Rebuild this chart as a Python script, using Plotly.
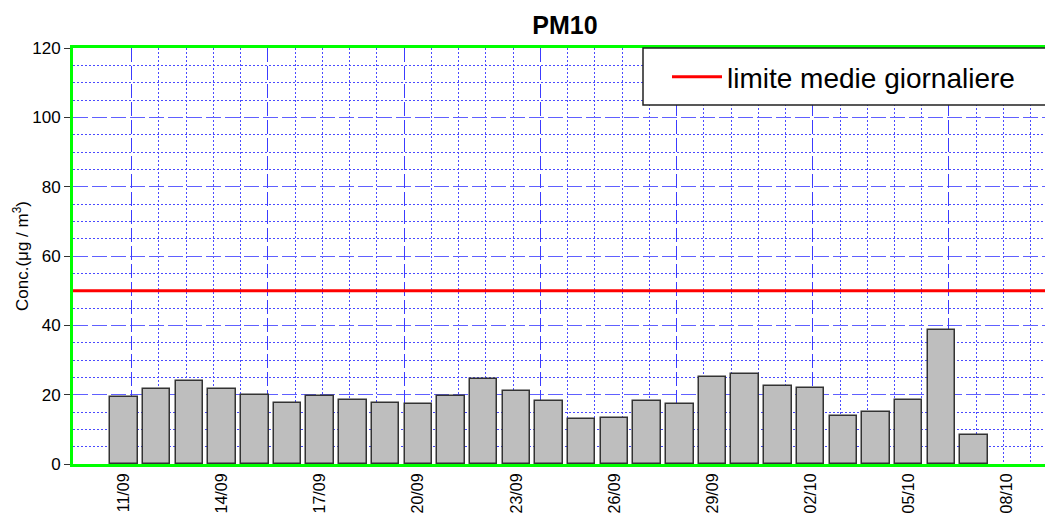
import plotly.graph_objects as go
import pandas as pd

# ---- data ----
days = ["2023-09-11", "2023-09-12", "2023-09-13", "2023-09-14", "2023-09-15",
        "2023-09-16", "2023-09-17", "2023-09-18", "2023-09-19", "2023-09-20",
        "2023-09-21", "2023-09-22", "2023-09-23", "2023-09-24", "2023-09-25",
        "2023-09-26", "2023-09-27", "2023-09-28", "2023-09-29", "2023-09-30",
        "2023-10-01", "2023-10-02", "2023-10-03", "2023-10-04", "2023-10-05",
        "2023-10-06", "2023-10-07"]
pm10 = [19.3, 21.6, 23.9, 21.6, 20.0, 17.7, 19.6, 18.5, 17.5, 17.3,
        19.6, 24.4, 21.0, 18.3, 12.9, 13.4, 18.3, 17.3, 25.0, 26.0,
        22.5, 21.9, 13.8, 14.9, 18.4, 38.7, 8.3]
tick_dates = ["2023-09-11", "2023-09-14", "2023-09-17", "2023-09-20", "2023-09-23",
              "2023-09-26", "2023-09-29", "2023-10-02", "2023-10-05", "2023-10-08"]
tick_labels = ["11/09", "14/09", "17/09", "20/09", "23/09",
               "26/09", "29/09", "02/10", "05/10", "08/10"]
limit_value = 50
limit_name = "limite medie giornaliere"

# ---- layout helpers ----
DAY = pd.Timedelta(days=1)
t_first = pd.Timestamp(days[0])
x_lo = t_first - 1.56 * DAY
x_hi = t_first + 28.17 * DAY
grid0 = t_first + pd.Timedelta(hours=5.6)
major_grid = []
minor_grid = []
k = 0
while True:
    t = grid0 + pd.Timedelta(hours=20 * k)
    if t > x_hi:
        break
    (major_grid if k % 5 == 0 else minor_grid).append(t.strftime("%Y-%m-%d %H:%M:%S"))
    k += 1

FONT = "Liberation Sans, Arial, sans-serif"
GRID_MAJOR = "#3c3cff"
GRID_MINOR = "#4a4aff"

fig = go.Figure()
fig.add_trace(go.Bar(
    x=days, y=pm10, width=0.84 * 86400000,
    marker=dict(color="#BEBEBE", line=dict(color="#333333", width=1.5)),
    showlegend=False, hoverinfo="x+y",
))
# invisible trace to anchor the grid axis
fig.add_trace(go.Scatter(x=[days[0]], y=[None], xaxis="x2", showlegend=False,
                         hoverinfo="skip"))

fig.add_shape(type="line", xref="x domain", yref="y", x0=0, x1=1,
              y0=limit_value, y1=limit_value,
              line=dict(color="#FF0000", width=3),
              showlegend=True, name=limit_name)
# legend box
fig.add_shape(type="rect", xref="paper", yref="paper",
              x0=(643 - 73) / 972, x1=1.02, y0=(464 - 105) / 416, y1=1.0,
              fillcolor="white", line=dict(color="#222222", width=1.5),
              layer="above")

fig.update_layout(
    width=1045, height=513,
    margin=dict(l=73, r=0, t=48, b=49, autoexpand=False),
    paper_bgcolor="white", plot_bgcolor="white",
    font=dict(family=FONT, color="black"),
    title=dict(text="<b>PM10</b>", x=(565 - 73) / 972, xref="paper", xanchor="center",
               y=1 - 25 / 513, yref="container", yanchor="middle",
               font=dict(size=25, family=FONT, color="black")),
    xaxis=dict(type="date", range=[x_lo, x_hi], tickmode="array", automargin=False,
               tickvals=tick_dates, ticktext=tick_labels, tickangle=-90,
               tickfont=dict(size=16), ticks="", showgrid=False, zeroline=False,
               showline=True, linecolor="#00FF00", linewidth=3, mirror=True),
    xaxis2=dict(type="date", overlaying="x", range=[x_lo, x_hi], side="top",
                automargin=False,
                showticklabels=False, ticks="", tickmode="array", tickvals=major_grid,
                showgrid=True, gridcolor=GRID_MAJOR, gridwidth=1,
                griddash="14px,4px", zeroline=False, showline=False,
                minor=dict(tickmode="array", tickvals=minor_grid, showgrid=True,
                           gridcolor=GRID_MINOR, gridwidth=1,
                           griddash="2px,2px", ticks="")),
    yaxis=dict(range=[0, 120], tickmode="linear", tick0=0, dtick=20, automargin=False,
               ticks="outside", ticklen=6, tickcolor="#333333", tickwidth=1,
               tickfont=dict(size=17), showline=True, linecolor="#00FF00",
               linewidth=3, zeroline=False,
               showgrid=True, gridcolor="#6060ff", gridwidth=1,
               griddash="15px,4px",
               minor=dict(dtick=5, showgrid=True, gridcolor=GRID_MINOR,
                          gridwidth=1, griddash="2px,2px", ticks=""),
               title=dict(text="Conc.(μg / m<sup>3</sup>)", font=dict(size=17),
                          standoff=0)),
    showlegend=True,
    legend=dict(x=(667 - 73) / 972, xanchor="left", y=(464 - 77) / 416,
                yanchor="middle", bgcolor="rgba(0,0,0,0)", borderwidth=0,
                font=dict(size=28, family=FONT, color="black"), itemwidth=50),
    bargap=0,
)

fig.write_html("out.html", config={"displayModeBar": False},
               post_script="document.body.style.margin='0px';"
                           "document.body.style.overflow='hidden';")
